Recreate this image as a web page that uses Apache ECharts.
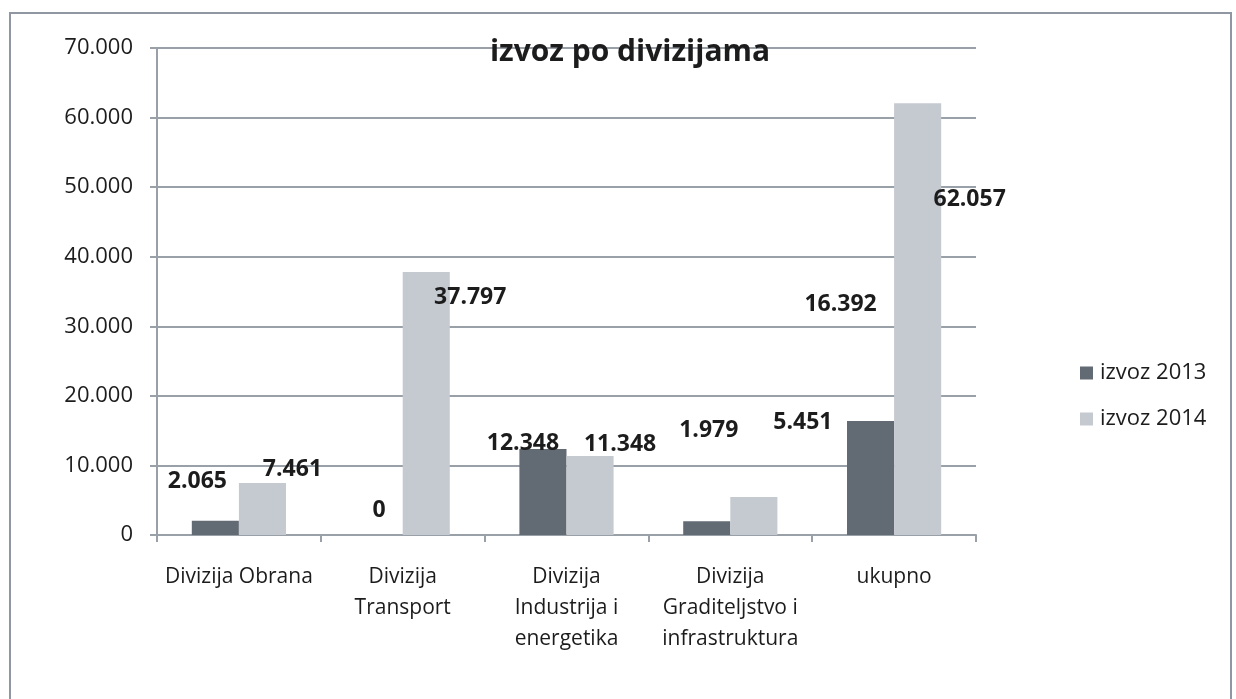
<!DOCTYPE html>
<html>
<head>
<meta charset="utf-8">
<script src="https://cdn.jsdelivr.net/npm/echarts@6/dist/echarts.min.js"></script>
<style>
html,body{margin:0;padding:0;background:#fff;}
#chart{width:1236px;height:699px;}
</style>
</head>
<body>
<div id="chart"></div>
<script>
const title = 'izvoz po divizijama';
const categories = ['Divizija Obrana', 'Divizija\nTransport', 'Divizija\nIndustrija i\nenergetika', 'Divizija\nGraditeljstvo i\ninfrastruktura', 'ukupno'];
const seriesNames = ['izvoz 2013', 'izvoz 2014'];
const values2013 = [2065, 0, 12348, 1979, 16392];
const values2014 = [7461, 37797, 11348, 5451, 62057];
const yTicks = [0, 10000, 20000, 30000, 40000, 50000, 60000, 70000];

// label placement (style, mimics the manually moved labels of the original)
const labelOffsets2013 = [[-18, -23], [0, -8], [-20, 11], [2, -74], [-30, -100]];
const labelOffsets2014 = [[30, 3], [44, 42], [30, 5], [49, -58], [52, 113]];

const fmt = v => String(v).replace(/\B(?=(\d{3})+(?!\d))/g, '.');

const FONT = '"Open Sans", sans-serif';
const TXT = '#1c1c1c';
const GRID = '#9aa0a8';

function buildData(values, offsets) {
  return values.map((v, i) => ({ value: v, label: { offset: offsets[i] } }));
}

const chart = echarts.init(document.getElementById('chart'), null, { renderer: 'canvas' });
chart.setOption({
  animation: false,
  backgroundColor: '#ffffff',
  title: {
    text: title,
    left: 625, top: 32, textAlign: 'center',
    textStyle: { fontFamily: FONT, fontWeight: 'bold', fontSize: 30, color: TXT }
  },
  graphic: [{
    type: 'rect', silent: true, z: -10,
    shape: { x: 10, y: 13, width: 1221, height: 720 },
    style: { fill: 'none', stroke: '#9097a3', lineWidth: 2 }
  }],
  legend: {
    orient: 'vertical', left: 1075, top: 357,
    itemWidth: 13, itemHeight: 13, itemGap: 24, icon: 'rect',
    textStyle: { fontFamily: FONT, fontSize: 22, color: TXT, padding: [0, 0, 0, 2] },
    data: seriesNames
  },
  grid: { left: 157, right: 260, top: 48, bottom: 164, containLabel: false },
  xAxis: {
    type: 'category', data: categories,
    axisLine: { lineStyle: { color: GRID, width: 2 } },
    axisTick: { show: true, length: 7, lineStyle: { color: GRID, width: 2 } },
    axisLabel: { fontFamily: FONT, fontSize: 21, color: TXT, lineHeight: 31, margin: 27, interval: 0 }
  },
  yAxis: {
    type: 'value', min: 0, max: 70000, interval: 10000,
    axisLine: { show: true, lineStyle: { color: GRID, width: 2 } },
    axisTick: { show: true, length: 7, lineStyle: { color: GRID, width: 2 } },
    splitLine: { lineStyle: { color: GRID, width: 2 } },
    axisLabel: {
      fontFamily: FONT, fontSize: 22, color: TXT, margin: 24,
      formatter: v => yTicks.includes(v) ? fmt(v) : ''
    }
  },
  series: [
    {
      name: seriesNames[0], type: 'bar', barGap: '0%', barCategoryGap: '42.5%',
      itemStyle: { color: '#626a73' },
      label: { show: true, position: 'top', distance: 5, fontFamily: FONT, fontWeight: 'bold', fontSize: 23, color: TXT, formatter: p => fmt(p.value) },
      data: buildData(values2013, labelOffsets2013)
    },
    {
      name: seriesNames[1], type: 'bar',
      itemStyle: { color: '#c5c9d0' },
      label: { show: true, position: 'top', distance: 5, fontFamily: FONT, fontWeight: 'bold', fontSize: 23, color: TXT, formatter: p => fmt(p.value) },
      data: buildData(values2014, labelOffsets2014)
    }
  ]
});
</script>
</body>
</html>
